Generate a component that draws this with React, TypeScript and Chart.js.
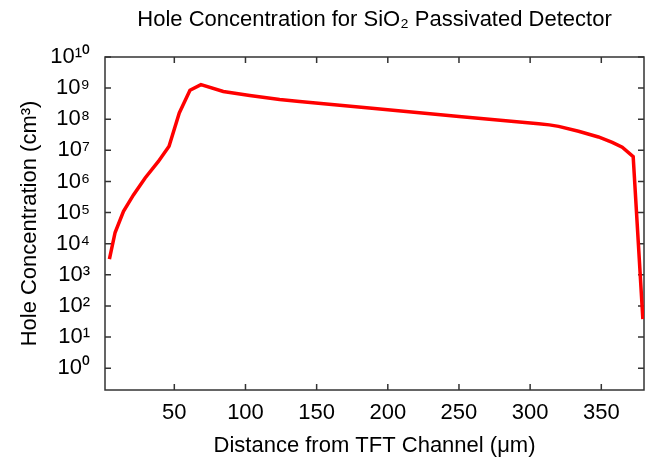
import React, { useEffect, useRef } from "react";
import { Chart, registerables } from "chart.js";

Chart.register(...registerables);

// Data
const distanceUm = [
  4.4, 8.4, 14.3, 21.3, 29.5, 38.8, 46.3, 53.5, 61, 68.7, 84.4, 103, 124, 138,
  187, 250, 306, 313.5, 320, 334, 348, 357.7, 364.7, 372.4, 379.2,
];
const holeConcentration = [
  3.2e3, 2.3e4, 1.1e5, 3.7e5, 1.3e6, 4.4e6, 1.35e7, 1.6e8, 8.5e8, 1.3e9, 7.8e8,
  5.8e8, 4.3e8, 3.7e8, 2.3e8, 1.23e8, 7.2e7, 6.6e7, 5.9e7, 4.1e7, 2.7e7, 1.8e7,
  1.26e7, 6.3e6, 38,
];
const xTickValues = [50, 100, 150, 200, 250, 300, 350];
const yTickExponents = [0, 1, 2, 3, 4, 5, 6, 7, 8, 9, 10];

const TITLE = "Hole Concentration for SiO₂ Passivated Detector";
const X_LABEL = "Distance from TFT Channel (μm)";
const Y_LABEL = "Hole Concentration (cm³)";

const SUP: Record<string, string> = {
  "0": "⁰", "1": "¹", "2": "²", "3": "³", "4": "⁴",
  "5": "⁵", "6": "⁶", "7": "⁷", "8": "⁸", "9": "⁹", "-": "⁻",
};
const toSup = (n: number) => String(n).split("").map((c) => SUP[c] ?? c).join("");

const FONT = "'Liberation Sans', Arial, Helvetica, sans-serif";

const framePlugin = {
  id: "frameTicks",
  beforeDatasetsDraw(chart: any) {
    const { ctx, chartArea, scales } = chart;
    const { left, right, top, bottom } = chartArea;
    const x = scales.x;
    const y = scales.y;
    const len = 6;
    ctx.save();
    ctx.strokeStyle = "#333";
    ctx.lineWidth = 1.5;
    ctx.strokeRect(left, top, right - left, bottom - top);
    ctx.beginPath();
    x.ticks.forEach((t: any) => {
      const px = x.getPixelForValue(t.value);
      ctx.moveTo(px, bottom);
      ctx.lineTo(px, bottom - len);
      ctx.moveTo(px, top);
      ctx.lineTo(px, top + len);
    });
    y.ticks.forEach((t: any) => {
      const py = y.getPixelForValue(t.value);
      ctx.moveTo(left, py);
      ctx.lineTo(left + len, py);
      ctx.moveTo(right, py);
      ctx.lineTo(right - len, py);
    });
    ctx.stroke();
    ctx.restore();
  },
};

export default function App() {
  const ref = useRef<HTMLCanvasElement | null>(null);

  useEffect(() => {
    document.body.style.margin = "0";
    document.body.style.overflow = "hidden";
    const canvas = ref.current;
    if (!canvas) return;
    const chart = new Chart(canvas, {
      type: "line",
      data: {
        datasets: [
          {
            data: distanceUm.map((d, i) => ({ x: d, y: holeConcentration[i] })),
            borderColor: "#ff0000",
            backgroundColor: "#ff0000",
            borderWidth: 3.5,
            pointRadius: 0,
            tension: 0,
            fill: false,
          },
        ],
      },
      options: {
        responsive: false,
        animation: false,
        devicePixelRatio: 1,
        layout: { padding: { left: 0, right: 8, top: 0, bottom: 0 } },
        plugins: {
          legend: { display: false },
          tooltip: { enabled: false },
          title: {
            display: true,
            text: TITLE,
            fullSize: false,
            color: "#000",
            font: { family: FONT, size: 22, weight: "normal" },
            padding: { top: 7, bottom: 23.6 },
          },
        },
        scales: {
          x: {
            type: "linear",
            min: 1.3,
            max: 380,
            grid: { display: false, drawTicks: false },
            border: { display: false },
            afterBuildTicks: (scale: any) => {
              scale.ticks = xTickValues.map((v) => ({ value: v }));
            },
            afterFit: (scale: any) => {
              scale.height = 72;
            },
            ticks: {
              padding: 10,
              color: "#000",
              font: { family: FONT, size: 22 },
              maxRotation: 0,
              autoSkip: false,
              callback: (v: any) => String(v),
            },
            title: {
              display: true,
              text: X_LABEL,
              color: "#000",
              font: { family: FONT, size: 22 },
              padding: { top: 3, bottom: 3 },
            },
          },
          y: {
            type: "logarithmic",
            min: 0.2,
            max: 1e10,
            grid: { display: false, drawTicks: false },
            border: { display: false },
            afterBuildTicks: (scale: any) => {
              scale.ticks = yTickExponents.map((e) => ({ value: Math.pow(10, e) }));
            },
            afterFit: (scale: any) => {
              scale.width = 105;
            },
            ticks: {
              padding: 15,
              color: "#000",
              font: { family: FONT, size: 22 },
              autoSkip: false,
              callback: (v: any) => "10" + toSup(Math.round(Math.log10(Number(v)))),
            },
            title: {
              display: true,
              text: Y_LABEL,
              color: "#000",
              font: { family: FONT, size: 22 },
              padding: { top: 17, bottom: 4 },
            },
          },
        },
      },
      plugins: [framePlugin],
    });
    return () => chart.destroy();
  }, []);

  return (
    <div style={{ width: 652, height: 462 }}>
      <canvas ref={ref} width={652} height={462} />
    </div>
  );
}
